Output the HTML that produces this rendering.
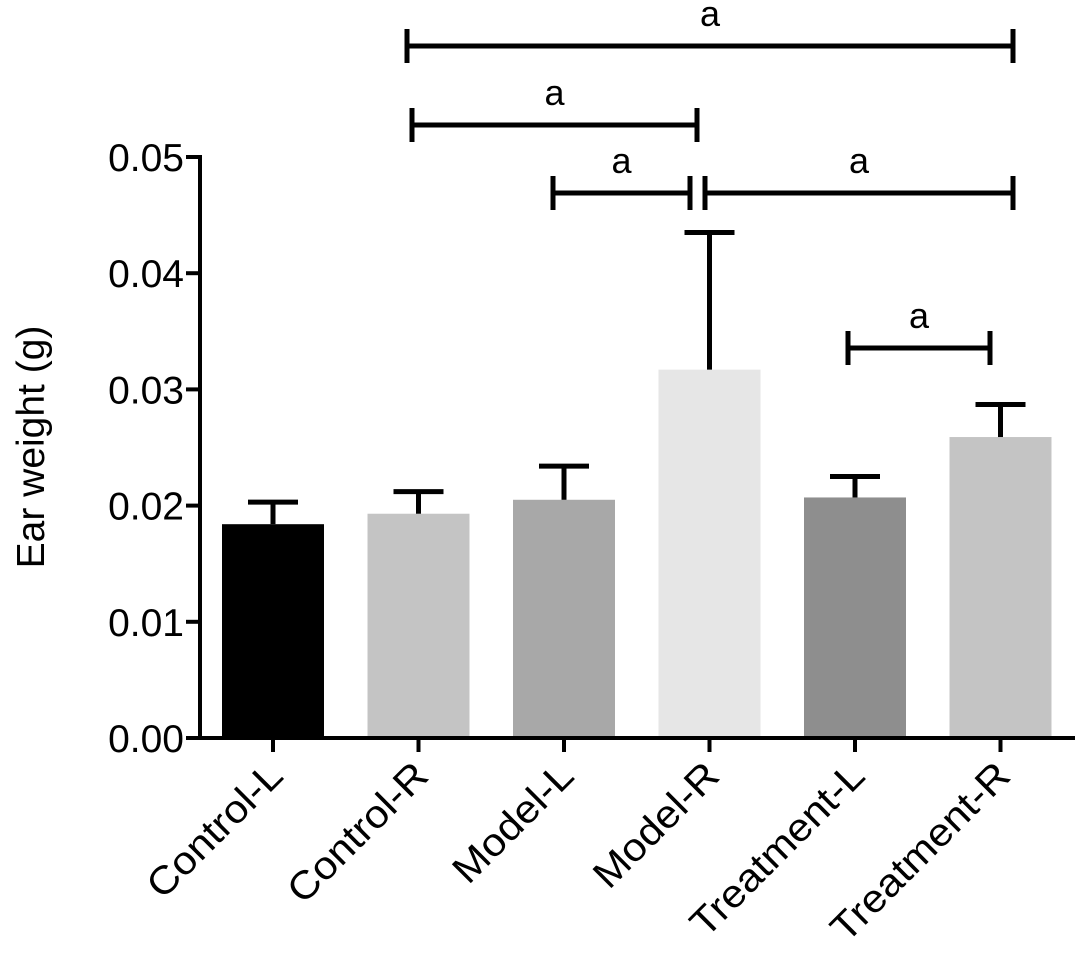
<!DOCTYPE html>
<html><head><meta charset="utf-8"><style>
body{margin:0;background:#fff;}
svg{display:block;font-family:"Liberation Sans",Arial,sans-serif;}
</style></head><body>
<svg id="chart" width="1087" height="973" viewBox="0 0 1087 973"></svg>
<script>
const categories=["Control-L","Control-R","Model-L","Model-R","Treatment-L","Treatment-R"];
const means=[0.0184,0.0193,0.0205,0.0317,0.0207,0.0259];
const errors=[0.0019,0.0019,0.0029,0.0118,0.0018,0.0028];
const colors=["#000000","#c4c4c4","#a8a8a8","#e6e6e6","#8e8e8e","#c4c4c4"];
const yTicks=[0,0.01,0.02,0.03,0.04,0.05];
const yTickLabels=["0.00","0.01","0.02","0.03","0.04","0.05"];
const bracketX=[[407,1013],[412,697],[553,690],[705,1013],[848,990]];
const bracketY=[46,125,193,193,348];
const NS="http://www.w3.org/2000/svg";
const svg=document.getElementById('chart');
const y0=738,yTop=157,x0=200;
const yS=v=>y0-(v/0.05)*(y0-yTop);
const xC=i=>273+i*145.5;
const barW=102;
function mk(t,a,p){const e=document.createElementNS(NS,t);for(const k in a)e.setAttribute(k,a[k]);(p||svg).appendChild(e);return e;}
let e=mk('line',{x1:x0,y1:yTop-2,x2:x0,y2:y0+2,stroke:'#000','stroke-width':4});


e=mk('line',{x1:x0-2,y1:y0,x2:1075,y2:y0,stroke:'#000','stroke-width':4});


yTicks.forEach((v,i)=>{
 const t=mk('line',{x1:x0-14,y1:yS(v),x2:x0,y2:yS(v),stroke:'#000','stroke-width':4});
 
 
 const l=mk('text',{x:x0-16,y:yS(v)+14,'text-anchor':'end','font-size':39});
 l.textContent=yTickLabels[i];
 
 
});
e=mk('text',{x:0,y:0,transform:'translate(44,447) rotate(-90)','text-anchor':'middle','font-size':39});
e.textContent='Ear weight (g)';


categories.forEach((c,i)=>{
 const cx=xC(i);
 const b=mk('rect',{x:cx-barW/2,y:yS(means[i]),width:barW,height:y0-2-yS(means[i]),fill:colors[i]});
 
 
 const g=mk('g',{stroke:'#000','stroke-width':5});
 
 
 mk('line',{x1:cx,y1:yS(means[i]),x2:cx,y2:yS(means[i]+errors[i])},g);
 mk('line',{x1:cx-25,y1:yS(means[i]+errors[i]),x2:cx+25,y2:yS(means[i]+errors[i])},g);
 const t=mk('line',{x1:cx,y1:y0,x2:cx,y2:y0+14,stroke:'#000','stroke-width':4});
 
 
 const l=mk('text',{x:0,y:0,transform:`translate(${cx+12},${y0+40}) rotate(-45) scale(1.08,1)`,'text-anchor':'end','font-size':39});
 l.textContent=c;
 
 
});
bracketX.forEach(([x1,x2],i)=>{
 const y=bracketY[i];
 const g=mk('g',{stroke:'#000','stroke-width':5});
 
 
 mk('line',{x1:x1,y1:y,x2:x2,y2:y},g);
 mk('line',{x1:x1,y1:y-17,x2:x1,y2:y+17},g);
 mk('line',{x1:x2,y1:y-17,x2:x2,y2:y+17},g);
 const l=mk('text',{x:(x1+x2)/2,y:y-20,'text-anchor':'middle','font-size':36});
 l.textContent='a';
 
 
});
</script>
</body></html>
